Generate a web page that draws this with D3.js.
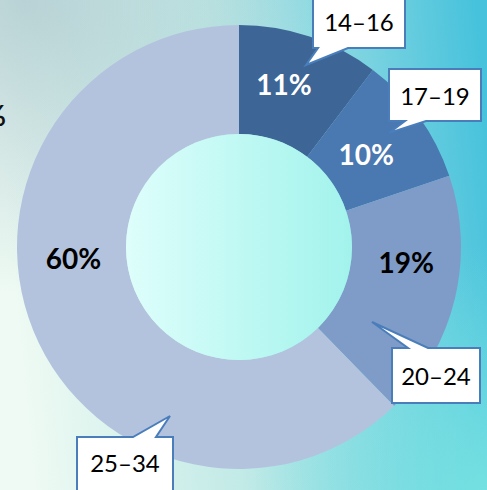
<!DOCTYPE html>
<html>
<head>
<meta charset="utf-8">
<script src="https://cdn.jsdelivr.net/npm/d3@7"></script>
<style>
  body { margin: 0; overflow: hidden; }
  text { font-family: Lato, "Open Sans", sans-serif; }
</style>
</head>
<body>
<div id="chart"></div>
<script>
// age groups, slice shares as drawn, and the printed labels
var groups = ["14–16", "17–19", "20–24", "25–34"];
var shares = [10.3, 9.5, 17.9, 62.3];
var pctLabels = ["11%", "10%", "19%", "60%"];
var colors = ["#3d6596", "#4a78b0", "#7f9cc8", "#b3c3de"];

var width = 487, height = 490;
var cx = 239, cy = 247, outerR = 222, innerR = 113;

var svg = d3.select("#chart").append("svg")
    .attr("width", width)
    .attr("height", height);

var defs = svg.append("defs");

var bg = defs.append("linearGradient").attr("id", "bg")
    .attr("x1", "0").attr("y1", "0.3").attr("x2", "1").attr("y2", "0.2");
bg.append("stop").attr("offset", "0").attr("stop-color", "#eefaf3");
bg.append("stop").attr("offset", "0.45").attr("stop-color", "#bfe9e6");
bg.append("stop").attr("offset", "1").attr("stop-color", "#46c2dc");

var shade = defs.append("radialGradient").attr("id", "shade")
    .attr("cx", "0.05").attr("cy", "0").attr("r", "0.6");
shade.append("stop").attr("offset", "0").attr("stop-color", "#a9c6cc").attr("stop-opacity", 0.75);
shade.append("stop").attr("offset", "1").attr("stop-color", "#a9c6cc").attr("stop-opacity", 0);

var lowRight = defs.append("radialGradient").attr("id", "lowright")
    .attr("cx", "1").attr("cy", "1").attr("r", "0.5");
lowRight.append("stop").attr("offset", "0").attr("stop-color", "#7ae6e2").attr("stop-opacity", 0.8);
lowRight.append("stop").attr("offset", "1").attr("stop-color", "#7ae6e2").attr("stop-opacity", 0);

var hole = defs.append("linearGradient").attr("id", "hole")
    .attr("x1", "0").attr("y1", "0").attr("x2", "1").attr("y2", "0");
hole.append("stop").attr("offset", "0").attr("stop-color", "#defefb");
hole.append("stop").attr("offset", "1").attr("stop-color", "#a2f3ec");

svg.append("rect").attr("width", width).attr("height", height).attr("fill", "url(#bg)");
svg.append("rect").attr("width", width).attr("height", height).attr("fill", "url(#shade)");
svg.append("rect").attr("width", width).attr("height", height).attr("fill", "url(#lowright)");

// cut-off label at the left edge
svg.append("text")
    .attr("x", 6).attr("y", 126)
    .attr("text-anchor", "end")
    .attr("font-size", 28).attr("font-weight", "bold")
    .attr("fill", "#111")
    .text("%");

var pie = d3.pie().sort(null).value(function(d) { return d; });
var arcs = pie(shares);

var arc = d3.arc().innerRadius(innerR).outerRadius(outerR);

var g = svg.append("g").attr("transform", "translate(" + cx + "," + cy + ")");

g.selectAll(".slice")
    .data(arcs)
    .enter().append("path")
    .attr("class", "slice")
    .attr("d", arc)
    .attr("fill", function(d, i) { return colors[i]; });

g.append("circle").attr("r", innerR).attr("fill", "url(#hole)");

// label placement: angle shift (deg) from slice middle and radius
var labelShift = [-3, 0, -8, 18];
var labelR = [168, 157, 168, 166];
var labelFill = ["#fff", "#fff", "#000", "#000"];

g.selectAll(".pct")
    .data(arcs)
    .enter().append("text")
    .attr("class", "pct")
    .attr("x", function(d, i) {
        var a = (d.startAngle + d.endAngle) / 2 + labelShift[i] * Math.PI / 180;
        return Math.sin(a) * labelR[i];
    })
    .attr("y", function(d, i) {
        var a = (d.startAngle + d.endAngle) / 2 + labelShift[i] * Math.PI / 180;
        return -Math.cos(a) * labelR[i];
    })
    .attr("dy", "0.36em")
    .attr("text-anchor", "middle")
    .attr("font-size", 28)
    .attr("font-weight", "bold")
    .attr("fill", function(d, i) { return labelFill[i]; })
    .text(function(d, i) { return pctLabels[i]; });

// callout boxes: box rect, pointer base on top or bottom edge, pointer tip
var callouts = [
    {x0: 313, y0: -10, x1: 405, y1: 48, side: "bottom", b0: 318, b1: 348, tx: 306, ty: 65},
    {x0: 389, y0: 69, x1: 481, y1: 121, side: "bottom", b0: 405, b1: 426, tx: 389, ty: 133},
    {x0: 392, y0: 348, x1: 480, y1: 403, side: "top", b0: 408, b1: 428, tx: 372, ty: 322},
    {x0: 77, y0: 437, x1: 173, y1: 500, side: "top", b0: 133, b1: 156, tx: 170, ty: 416}
];

function calloutPath(c) {
    if (c.side === "bottom") {
        return "M" + c.x0 + "," + c.y0 + "H" + c.x1 + "V" + c.y1 +
            "H" + c.b1 + "L" + c.tx + "," + c.ty + "L" + c.b0 + "," + c.y1 +
            "H" + c.x0 + "Z";
    }
    return "M" + c.x0 + "," + c.y0 + "H" + c.b0 + "L" + c.tx + "," + c.ty +
        "L" + c.b1 + "," + c.y0 + "H" + c.x1 + "V" + c.y1 + "H" + c.x0 + "Z";
}

var textY = [22, 96, 376, 463];

svg.selectAll(".callout")
    .data(callouts)
    .enter().append("path")
    .attr("class", "callout")
    .attr("d", calloutPath)
    .attr("fill", "#fff")
    .attr("stroke", "#4a7ebb")
    .attr("stroke-width", 2)
    .attr("stroke-linejoin", "miter");

svg.selectAll(".group")
    .data(callouts)
    .enter().append("text")
    .attr("class", "group")
    .attr("x", function(d) { return (d.x0 + d.x1) / 2; })
    .attr("y", function(d, i) { return textY[i]; })
    .attr("dy", "0.36em")
    .attr("text-anchor", "middle")
    .attr("font-size", 24)
    .attr("fill", "#000")
    .text(function(d, i) { return groups[i]; });
</script>
</body>
</html>
